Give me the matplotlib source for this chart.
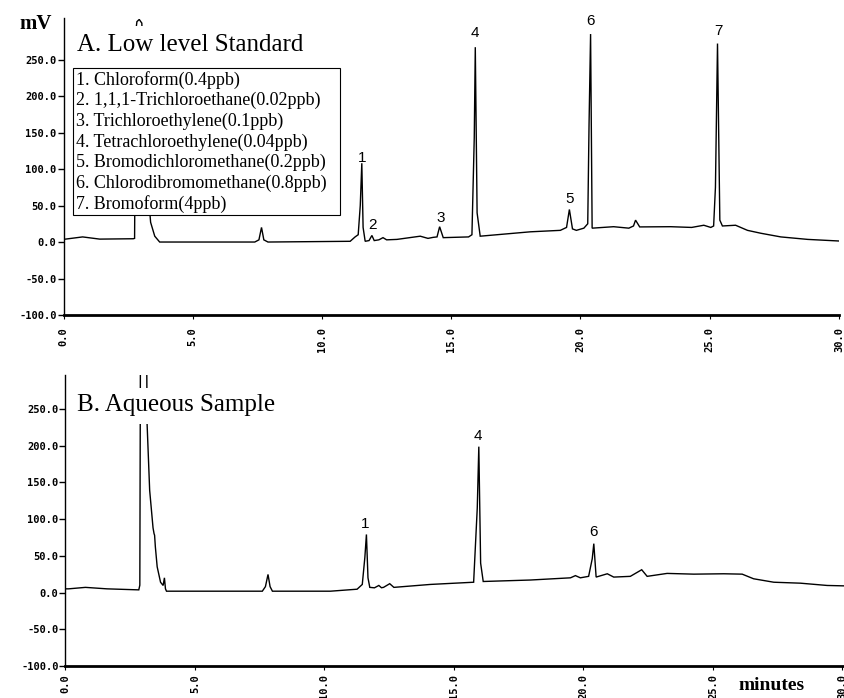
import matplotlib
matplotlib.use('Agg')
import matplotlib.pyplot as plt
from matplotlib.patches import Rectangle

# ---------------- data ----------------
compounds = ["1. Chloroform(0.4ppb)",
             "2. 1,1,1-Trichloroethane(0.02ppb)",
             "3. Trichloroethylene(0.1ppb)",
             "4. Tetrachloroethylene(0.04ppb)",
             "5. Bromodichloromethane(0.2ppb)",
             "6. Chlorodibromomethane(0.8ppb)",
             "7. Bromoform(4ppb)"]

# Panel A: low level standard (time in minutes, signal in mV)
top_t = [0.0, 0.08, 0.74, 1.40, 2.70, 2.75, 2.80, 2.84, 2.93, 3.03, 3.12, 3.25, 3.37, 3.53, 3.72,
         7.40, 7.56, 7.66, 7.75, 7.91, 11.09, 11.28, 11.40, 11.48, 11.54, 11.59, 11.67, 11.82,
         11.93, 12.02, 12.20, 12.36, 12.50, 12.90, 13.80, 14.10, 14.30, 14.45, 14.55, 14.69,
         15.67, 15.80, 15.89, 15.93, 16.00, 16.12, 18.06, 19.22, 19.46, 19.57, 19.69, 19.84,
         20.13, 20.28, 20.33, 20.39, 20.45, 21.28, 21.87, 22.05, 22.13, 22.29, 23.49, 24.30,
         24.77, 25.04, 25.15, 25.22, 25.30, 25.39, 25.49, 26.00, 26.46, 26.98, 27.75, 28.79, 30.0]
top_mv = [4, 4, 7, 4, 4.5, 5, 290, 302, 305, 300, 200, 80, 27, 8, 0,
          0, 3, 20, 3, 0, 1, 7, 10, 50, 108, 20, 1, 2,
          9, 2, 3, 6, 3, 3.6, 8, 5, 6.4, 7, 21, 6,
          7, 10, 143, 267, 40, 8, 14, 16, 20, 44.6, 18, 16,
          19, 25, 160, 285, 19, 21, 19, 22, 30, 20.7, 21, 20,
          23, 20, 22, 75, 272, 30, 22, 23, 16, 12, 7, 3.6, 1.4]
top_peak_labels = ["1", "2", "3", "4", "5", "6", "7"]
top_label_t = [11.54, 11.96, 14.60, 15.93, 19.58, 20.39, 25.33]
top_label_mv = [115, 23, 33, 286, 59, 303, 289]

# Panel B: aqueous sample
bot_t = [0.0, 0.12, 0.77, 1.6, 2.83, 2.87, 2.90, 3.12, 3.15, 3.25, 3.38, 3.42, 3.44, 3.47,
         3.54, 3.67, 3.77, 3.82, 3.86, 3.90, 5.21, 7.60, 7.72, 7.82, 7.90, 7.99, 10.23, 11.26,
         11.46, 11.56, 11.62, 11.68, 11.75, 11.93, 12.10, 12.20, 12.28, 12.52, 12.68, 14.09,
         15.76, 15.90, 15.96, 16.03, 16.13, 17.95, 19.50, 19.69, 19.88, 20.20, 20.34, 20.40,
         20.49, 20.92, 21.17, 21.81, 22.25, 22.46, 23.23, 24.26, 25.42, 26.13, 26.57, 27.35,
         28.38, 29.41, 30.12]
bot_mv = [5, 5, 7, 5, 3.6, 10, 420, 420, 230, 139, 88, 80, 78, 62,
          35, 14, 9.6, 20, 5, 1.8, 1.8, 1.8, 8, 24.6, 8, 1.8, 1.8, 4.5,
          11, 48, 79, 20, 7, 6.4, 9.6, 6.5, 7, 12, 7, 11,
          14, 115, 198.5, 40, 15, 17, 20, 23, 20, 22, 46, 66.5,
          21, 25.5, 21, 22, 31, 22, 26, 25, 25.5, 25, 18.7, 14,
          12.7, 9.6, 9]
bot_peak_labels = ["1", "4", "6"]
bot_label_t = [11.58, 15.93, 20.37]
bot_label_mv = [93.5, 213.6, 82]

y_ticks = [-100, -50, 0, 50, 100, 150, 200, 250]
x_ticks = [0, 5, 10, 15, 20, 25, 30]

# ---------------- figure ----------------
W, H = 845, 698
fig = plt.figure(figsize=(W / 100, H / 100), dpi=100)


def fx(x):
    return x / W


def fy(y):
    return 1 - y / H


axA = fig.add_axes([fx(63.5), fy(315), (839 - 63.5) / W, (315 - 18) / H])
axB = fig.add_axes([fx(65.5), fy(666), (845 - 65.5) / W, (666 - 375) / H])

mono = dict(family='DejaVu Sans Mono', weight='bold', size=7.5)

for ax, t, mv, ytop, xmax, xpad in [(axA, top_t, top_mv, 307, 30.0, 6),
                                     (axB, bot_t, bot_mv, 296, 30.1, 3)]:
    ax.plot(t, mv, color='black', lw=1.0, solid_joinstyle='miter')
    ax.set_xlim(0, xmax)
    ax.set_ylim(-100, ytop)
    ax.spines['top'].set_visible(False)
    ax.spines['right'].set_visible(False)
    ax.spines['bottom'].set_linewidth(2.0)
    ax.spines['left'].set_linewidth(1.0)
    ax.set_yticks(y_ticks)
    ax.set_yticklabels([f"{v:.1f}" for v in y_ticks], **mono)
    ax.set_xticks(x_ticks)
    ax.set_xticklabels([f"{v:.1f}" for v in x_ticks], rotation=90, va='top', **mono)
    ax.tick_params(axis='y', length=4, width=1.0, pad=1, direction='out')
    ax.tick_params(axis='x', length=3, width=0.8, pad=xpad, direction='out')
    ax.patch.set_alpha(0)

for lab, t, mv in zip(top_peak_labels, top_label_t, top_label_mv):
    axA.text(t, mv, lab, ha='center', va='center', fontsize=11,
             family='Liberation Sans', clip_on=False)
for lab, t, mv in zip(bot_peak_labels, bot_label_t, bot_label_mv):
    axB.text(t, mv, lab, ha='center', va='center', fontsize=11,
             family='Liberation Sans', clip_on=False)

# white areas behind titles (hide the off-scale solvent peak as in the print)
fig.add_artist(Rectangle((fx(73), fy(68)), (340 - 73) / W, (68 - 26) / H,
                         transform=fig.transFigure, facecolor='white',
                         edgecolor='none', zorder=2.5))
fig.add_artist(Rectangle((fx(75), fy(424)), (282 - 75) / W, (424 - 388) / H,
                         transform=fig.transFigure, facecolor='white',
                         edgecolor='none', zorder=2.5))

# legend box
fig.add_artist(Rectangle((fx(73), fy(215)), (340 - 73) / W, (215 - 68) / H,
                         transform=fig.transFigure, facecolor='white',
                         edgecolor='black', lw=0.8, zorder=3))
for i, name in enumerate(compounds):
    fig.text(fx(75.5), fy(80 + i * 20.67), name, ha='left', va='center',
             fontsize=13, family='Liberation Serif', zorder=4)

fig.text(fx(77), fy(45), "A. Low level Standard", ha='left', va='center',
         fontsize=18, family='Liberation Serif', zorder=4)
fig.text(fx(77), fy(405), "B. Aqueous Sample", ha='left', va='center',
         fontsize=18, family='Liberation Serif', zorder=4)
fig.text(fx(36), fy(24), "mV", ha='center', va='center', fontsize=15,
         family='Liberation Serif', weight='bold')
fig.text(fx(772), fy(686), "minutes", ha='center', va='center', fontsize=14,
         family='Liberation Serif', weight='bold')

fig.savefig('out.png', dpi=100, facecolor='white')
